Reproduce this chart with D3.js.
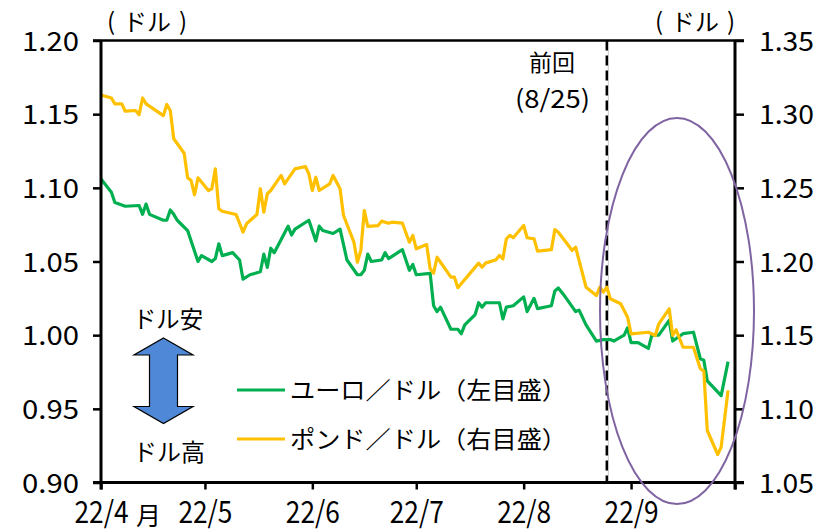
<!DOCTYPE html>
<html>
<head>
<meta charset="utf-8">
<script src="https://cdn.jsdelivr.net/npm/d3@7"></script>
<style>
  body { margin: 0; background: #fff; }
  text { font-family: "Noto Sans CJK JP", "Noto Sans", sans-serif; fill: #000; }
</style>
</head>
<body>
<div id="chart"></div>
<script>
// euro / dollar (left scale)
var eurDates = ["4/1","4/4","4/5","4/8","4/12","4/13","4/14","4/15","4/19","4/20","4/21","4/22","4/23","4/26","4/29","4/30",
  "5/3","5/4","5/5","5/6","5/9","5/11","5/12","5/14","5/17","5/18","5/19","5/20","5/21","5/25","5/26","5/27","5/31",
  "6/2","6/3","6/4","6/7","6/9","6/11","6/14","6/15","6/16","6/17","6/18","6/21","6/22","6/23","6/25","6/27","6/29","6/30",
  "7/1","7/5","7/6","7/7","7/8","7/11","7/13","7/14","7/15","7/18","7/19","7/20","7/21","7/25","7/26","7/27","7/29",
  "8/1","8/2","8/4","8/5","8/9","8/10","8/11","8/13","8/16","8/17","8/19","8/22","8/24","8/26","8/27","8/30","8/31",
  "9/1","9/3","9/6","9/7","9/9","9/12","9/13","9/16","9/19","9/21","9/22","9/23","9/27","9/29"];
var eurValues = [1.106,1.097,1.090,1.0875,1.088,1.082,1.089,1.082,1.078,1.078,1.085,1.082,1.078,1.071,1.050,1.054,
  1.050,1.052,1.062,1.054,1.056,1.051,1.038,1.041,1.043,1.055,1.046,1.059,1.056,1.074,1.068,1.072,1.078,
  1.064,1.074,1.071,1.069,1.072,1.051,1.041,1.041,1.044,1.055,1.050,1.051,1.056,1.052,1.055,1.058,1.044,1.048,
  1.041,1.042,1.020,1.016,1.019,1.004,1.004,1.001,1.007,1.014,1.022,1.019,1.022,1.022,1.011,1.019,1.020,
  1.026,1.016,1.025,1.018,1.020,1.030,1.032,1.026,1.016,1.017,1.007,0.996,0.997,0.997,0.996,1.000,1.005,
  0.995,0.995,0.991,1.000,1.000,1.010,0.996,1.001,1.002,0.984,0.983,0.969,0.959,0.982];

// pound / dollar (right scale)
var gbpDates = ["4/1","4/4","4/5","4/7","4/8","4/11","4/12","4/13","4/14","4/19","4/20","4/21","4/22","4/25","4/26","4/27","4/28","4/29",
  "5/2","5/3","5/4","5/5","5/6","5/10","5/12","5/13","5/16","5/17","5/18","5/19","5/20","5/23","5/24","5/25","5/27","5/30","5/31",
  "6/1","6/2","6/3","6/6","6/7","6/9","6/10","6/13","6/14","6/15","6/16","6/17","6/20","6/21","6/23","6/24","6/27","6/29","6/30",
  "7/1","7/4","7/5","7/6","7/7","7/11","7/12","7/13","7/19","7/20","7/21","7/24","7/25","7/26","7/27","7/28","7/29",
  "8/1","8/2","8/4","8/5","8/9","8/10","8/11","8/13","8/15","8/16","8/19","8/22","8/23","8/24","8/25","8/26","8/29","8/31",
  "9/1","9/6","9/8","9/9","9/12","9/13","9/14","9/16","9/19","9/21","9/22","9/23","9/26","9/27","9/29"];
var gbpValues = [1.313,1.311,1.307,1.307,1.302,1.3025,1.2996,1.311,1.307,1.299,1.3066,1.3025,1.2833,1.2735,1.2568,1.255,1.2453,1.2568,
  1.2482,1.2494,1.2629,1.2358,1.2341,1.2319,1.2199,1.2256,1.2319,1.2494,1.2335,1.246,1.2482,1.2584,1.2527,1.2561,1.2629,1.2645,1.2595,
  1.2482,1.2572,1.2482,1.2527,1.2584,1.2494,1.2312,1.2132,1.1995,1.2075,1.2346,1.2238,1.2244,1.2274,1.226,1.2267,1.226,1.2131,1.2177,
  1.2086,1.2115,1.195,1.1921,1.2029,1.1894,1.1894,1.1822,1.1989,1.1961,1.1989,1.2012,1.2041,1.2018,1.2154,1.2177,1.2161,
  1.2244,1.2161,1.2154,1.207,1.208,1.2217,1.2199,1.2138,1.2075,1.2097,1.1826,1.1769,1.1826,1.1792,1.1826,1.1747,1.1713,1.1622,
  1.1509,1.152,1.1498,1.1577,1.1679,1.1498,1.1537,1.1418,1.1418,1.1272,1.1256,1.0853,1.069,1.074,1.1125];

var leftTicks = [0.90, 0.95, 1.00, 1.05, 1.10, 1.15, 1.20];
var rightTicks = [1.05, 1.10, 1.15, 1.20, 1.25, 1.30, 1.35];
var monthTicks = ["4/1","5/1","6/1","7/1","8/1","9/1","10/1"];
var lastTime = "8/25";

var W = 838, H = 531;
var plot = {left: 101, right: 735, top: 40.5, bottom: 482.5};

var parse = function(s) { var p = s.split("/"); return new Date(2022, +p[0] - 1, +p[1]); };

var x = d3.scaleTime()
  .domain([parse("4/1"), parse("10/1")])
  .range([plot.left, plot.right]);
var yL = d3.scaleLinear().domain([0.90, 1.20]).range([plot.bottom, plot.top]);
var yR = d3.scaleLinear().domain([1.05, 1.35]).range([plot.bottom, plot.top]);

var svg = d3.select("#chart").append("svg")
  .attr("width", W).attr("height", H);

// previous meeting line
var xLast = x(parse(lastTime));
svg.append("line")
  .attr("x1", xLast + 1.5).attr("x2", xLast + 1.5)
  .attr("y1", plot.top).attr("y2", plot.bottom)
  .attr("stroke", "#c8c8c8").attr("stroke-width", 1);
svg.append("line")
  .attr("x1", xLast).attr("x2", xLast)
  .attr("y1", plot.top).attr("y2", plot.bottom)
  .attr("stroke", "#000").attr("stroke-width", 2.5)
  .attr("stroke-dasharray", "10,5");

// lines
var eur = eurDates.map(function(d, i) { return {date: parse(d), v: eurValues[i]}; });
var gbp = gbpDates.map(function(d, i) { return {date: parse(d), v: gbpValues[i]}; });

svg.append("path").datum(eur)
  .attr("fill", "none").attr("stroke", "#00B050").attr("stroke-width", 3.2)
  .attr("stroke-linejoin", "round")
  .attr("d", d3.line().x(function(d) { return x(d.date); }).y(function(d) { return yL(d.v); }));
svg.append("path").datum(gbp)
  .attr("fill", "none").attr("stroke", "#FFC000").attr("stroke-width", 3.2)
  .attr("stroke-linejoin", "round")
  .attr("d", d3.line().x(function(d) { return x(d.date); }).y(function(d) { return yR(d.v); }));

// axes
var fmt = d3.format(".2f");
var axL = svg.append("g").attr("transform", "translate(" + plot.left + ",0)")
  .call(d3.axisLeft(yL).tickValues(leftTicks).tickSize(8).tickSizeOuter(0).tickPadding(14).tickFormat(fmt));
var axR = svg.append("g").attr("transform", "translate(" + plot.right + ",0)")
  .call(d3.axisRight(yR).tickValues(rightTicks).tickSize(9).tickSizeOuter(0).tickPadding(15).tickFormat(fmt));
var axB = svg.append("g").attr("transform", "translate(0," + plot.bottom + ")")
  .call(d3.axisBottom(x).tickValues(monthTicks.map(parse)).tickSize(7).tickSizeOuter(0)
    .tickFormat(function(d) { return d.getMonth() == 9 ? "" : "22/" + (d.getMonth() + 1); }));

[axL, axR, axB].forEach(function(a) {
  a.select(".domain").remove();
  a.selectAll(".tick line").attr("stroke", "#000").attr("stroke-width", 2.5);
});
axL.selectAll("text").attr("font-size", 27).attr("dy", "0.36em")
  .attr("textLength", 57).attr("lengthAdjust", "spacingAndGlyphs");
axR.selectAll("text").attr("font-size", 27).attr("dy", "0.36em")
  .attr("textLength", 55).attr("lengthAdjust", "spacingAndGlyphs");
axB.selectAll("text").attr("font-size", 30).attr("y", 40).attr("dy", 0)
  .attr("textLength", 54).attr("lengthAdjust", "spacingAndGlyphs");

svg.append("text").attr("x", 136).attr("y", 525).attr("font-size", 25).text("月");

// frame
svg.append("line").attr("x1", plot.left - 8).attr("x2", plot.right + 9)
  .attr("y1", plot.top).attr("y2", plot.top).attr("stroke", "#000").attr("stroke-width", 2.5);
svg.append("line").attr("x1", plot.left - 8).attr("x2", plot.right + 9)
  .attr("y1", plot.bottom).attr("y2", plot.bottom).attr("stroke", "#000").attr("stroke-width", 3);
svg.append("line").attr("x1", plot.left).attr("x2", plot.left)
  .attr("y1", plot.top).attr("y2", plot.bottom + 7).attr("stroke", "#000").attr("stroke-width", 3);
svg.append("line").attr("x1", plot.right).attr("x2", plot.right)
  .attr("y1", plot.top).attr("y2", plot.bottom + 7).attr("stroke", "#000").attr("stroke-width", 3);

// unit labels: parens and ドル set apart, as in the original
[147, 695].forEach(function(cx) {
  svg.append("text").attr("x", cx - 36).attr("y", 30).attr("font-size", 24)
    .attr("text-anchor", "middle").text("(");
  svg.append("text").attr("x", cx).attr("y", 31).attr("font-size", 24)
    .attr("text-anchor", "middle").text("ドル");
  svg.append("text").attr("x", cx + 36).attr("y", 30).attr("font-size", 24)
    .attr("text-anchor", "middle").text(")");
});

// previous meeting label
svg.append("text").attr("x", 552).attr("y", 71).attr("font-size", 23)
  .attr("text-anchor", "middle").text("前回");
svg.append("text").attr("x", 515).attr("y", 108).attr("font-size", 25)
  .attr("textLength", 75).attr("lengthAdjust", "spacingAndGlyphs").text("(8/25)");

// highlight ellipse
svg.append("ellipse").attr("cx", 677).attr("cy", 311).attr("rx", 77).attr("ry", 193)
  .attr("fill", "none").attr("stroke", "#8064A2").attr("stroke-width", 2);

// dollar weak / strong arrow
svg.append("path")
  .attr("d", "M163.5,338 L193,355 L177.5,355 L177.5,406.5 L193,406.5 L163.5,423.5 L134,406.5 L149.5,406.5 L149.5,355 L134,355 Z")
  .attr("fill", "#4F88D6").attr("stroke", "#000").attr("stroke-width", 1.2);
svg.append("text").attr("x", 133).attr("y", 328).attr("font-size", 24)
  .attr("textLength", 70).attr("lengthAdjust", "spacingAndGlyphs").text("ドル安");
svg.append("text").attr("x", 133).attr("y", 461).attr("font-size", 24)
  .attr("textLength", 72).attr("lengthAdjust", "spacingAndGlyphs").text("ドル高");

// legend
var legend = [
  {label: "ユーロ／ドル（左目盛）", color: "#00B050", y: 390},
  {label: "ポンド／ドル（右目盛）", color: "#FFC000", y: 439}
];
legend.forEach(function(l) {
  svg.append("line").attr("x1", 237).attr("x2", 285).attr("y1", l.y).attr("y2", l.y)
    .attr("stroke", l.color).attr("stroke-width", 3);
  svg.append("text").attr("x", 290).attr("y", l.y + 9).attr("font-size", 24)
    .attr("textLength", 277).attr("lengthAdjust", "spacingAndGlyphs").text(l.label);
});
</script>
</body>
</html>
